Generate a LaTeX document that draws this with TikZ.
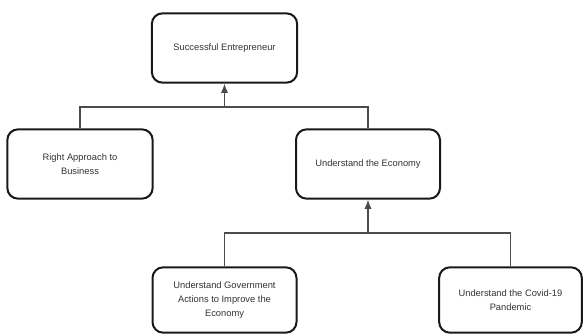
\documentclass[tikz,border=0pt]{standalone}
\usepackage{fontspec}
\setmainfont{Liberation Sans}
\usepackage{tikz}
\usetikzlibrary{arrows.meta}

\tikzset{
	goalbox/.style={draw=black!90,line width=1.5pt,rounded corners=8pt,fill=white,align=center,
		font=\fontsize{7}{10.8}\selectfont,text=black!80,inner sep=2pt},
	link/.style={draw=black!70,line width=0.8pt}
}

\begin{document}
\begin{tikzpicture}[x=0.75pt,y=-0.75pt]
	\useasboundingbox (0,0) rectangle (583,335);
	\node[goalbox,minimum width=109pt,minimum height=52pt] (se) at (224.5,48) {Successful Entrepreneur};
	\node[goalbox,minimum width=109pt,minimum height=52pt] (rab) at (80,164) {Right Approach to\\Business};
	\node[goalbox,minimum width=108pt,minimum height=52pt] (ue) at (368,164) {Understand the Economy};
	\node[goalbox,minimum width=108pt,minimum height=49pt] (ug) at (224.5,300) {Understand Government\\Actions to Improve the\\Economy};
	\node[goalbox,minimum width=107pt,minimum height=49pt] (uc) at (510.5,300) {Understand the Covid-19\\Pandemic};
	\coordinate (j1) at (224.5,107);
	\coordinate (j2) at (368,233);
	\draw[link] (rab.north) |- (j1) -| (ue.north);
	\draw[link,-{Latex[length=7pt,width=5.5pt]}] (j1) -- (se.south);
	\draw[link] (ug.north) |- (j2) -| (uc.north);
	\draw[link,-{Latex[length=7pt,width=5.5pt]}] (j2) -- (ue.south);
\end{tikzpicture}
\end{document}
